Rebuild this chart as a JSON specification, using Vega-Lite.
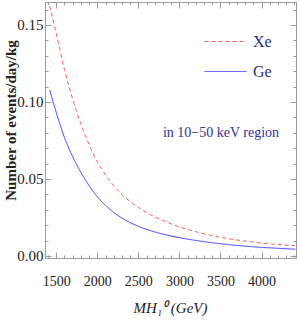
{
  "$schema": "https://vega.github.io/schema/vega-lite/v6.json",
  "width": 251,
  "height": 256,
  "autosize": {"type": "none"},
  "padding": {"left": 45, "top": 2, "right": 4, "bottom": 69},
  "background": "white",
  "config": {
    "view": {"stroke": "#9a9a9a", "strokeWidth": 1},
    "axis": {
      "grid": false,
      "domainColor": "#9a9a9a",
      "tickColor": "#9a9a9a",
      "labelFont": "Liberation Serif",
      "labelColor": "#222222",
      "titleFont": "Liberation Serif",
      "titleColor": "#222222",
      "titleFontWeight": "normal"
    },
    "legend": {
      "orient": "none",
      "legendX": 159,
      "legendY": 18,
      "title": null,
      "symbolType": "stroke",
      "symbolSize": 1764,
      "symbolStrokeWidth": 1,
      "labelFont": "Liberation Serif",
      "labelFontSize": 16,
      "labelColor": "#2e2e80",
      "labelOffset": 6,
      "rowPadding": -10
    }
  },
  "datasets": {
    "curves": [
      {"series": "Xe", "mass": 1420, "rate": 0.1623},
      {"series": "Xe", "mass": 1500, "rate": 0.1445},
      {"series": "Xe", "mass": 1600, "rate": 0.1211},
      {"series": "Xe", "mass": 1700, "rate": 0.1019},
      {"series": "Xe", "mass": 1800, "rate": 0.0858},
      {"series": "Xe", "mass": 1900, "rate": 0.0724},
      {"series": "Xe", "mass": 2000, "rate": 0.0612},
      {"series": "Xe", "mass": 2100, "rate": 0.0526},
      {"series": "Xe", "mass": 2200, "rate": 0.0456},
      {"series": "Xe", "mass": 2300, "rate": 0.0399},
      {"series": "Xe", "mass": 2400, "rate": 0.0354},
      {"series": "Xe", "mass": 2500, "rate": 0.0315},
      {"series": "Xe", "mass": 2600, "rate": 0.0282},
      {"series": "Xe", "mass": 2800, "rate": 0.0230},
      {"series": "Xe", "mass": 3000, "rate": 0.0189},
      {"series": "Xe", "mass": 3200, "rate": 0.0158},
      {"series": "Xe", "mass": 3400, "rate": 0.0132},
      {"series": "Xe", "mass": 3600, "rate": 0.0112},
      {"series": "Xe", "mass": 3800, "rate": 0.0097},
      {"series": "Xe", "mass": 4000, "rate": 0.0084},
      {"series": "Xe", "mass": 4200, "rate": 0.0075},
      {"series": "Xe", "mass": 4410, "rate": 0.0067},
      {"series": "Ge", "mass": 1420, "rate": 0.1078},
      {"series": "Ge", "mass": 1500, "rate": 0.0932},
      {"series": "Ge", "mass": 1600, "rate": 0.0769},
      {"series": "Ge", "mass": 1700, "rate": 0.0645},
      {"series": "Ge", "mass": 1800, "rate": 0.0543},
      {"series": "Ge", "mass": 1900, "rate": 0.0457},
      {"series": "Ge", "mass": 2000, "rate": 0.0385},
      {"series": "Ge", "mass": 2100, "rate": 0.0329},
      {"series": "Ge", "mass": 2200, "rate": 0.0283},
      {"series": "Ge", "mass": 2300, "rate": 0.0246},
      {"series": "Ge", "mass": 2400, "rate": 0.0217},
      {"series": "Ge", "mass": 2500, "rate": 0.0193},
      {"series": "Ge", "mass": 2600, "rate": 0.0173},
      {"series": "Ge", "mass": 2800, "rate": 0.0142},
      {"series": "Ge", "mass": 3000, "rate": 0.0119},
      {"series": "Ge", "mass": 3200, "rate": 0.0101},
      {"series": "Ge", "mass": 3400, "rate": 0.0086},
      {"series": "Ge", "mass": 3600, "rate": 0.0074},
      {"series": "Ge", "mass": 3800, "rate": 0.0064},
      {"series": "Ge", "mass": 4000, "rate": 0.0056},
      {"series": "Ge", "mass": 4200, "rate": 0.0050},
      {"series": "Ge", "mass": 4410, "rate": 0.0044}
    ],
    "notes": [
      {"note": "in 10−50 keV region"}
    ]
  },
  "layer": [
    {
      "data": {"name": "curves"},
      "mark": {"type": "line", "strokeWidth": 1, "interpolate": "monotone"},
      "encoding": {
        "x": {
          "field": "mass",
          "type": "quantitative",
          "scale": {"domain": [1363, 4420], "nice": false, "zero": false},
          "axis": {
            "orient": "bottom",
            "title": "MH₁⁰ (GeV)",
            "titleFontSize": 15,
            "titleFontStyle": "italic",
            "titleX": 125,
            "titleY": 49,
            "titleAlign": "center",
            "titleBaseline": "middle",
            "values": [1400,1500,1600,1700,1800,1900,2000,2100,2200,2300,2400,2500,2600,2700,2800,2900,3000,3100,3200,3300,3400,3500,3600,3700,3800,3900,4000,4100,4200,4300,4400],
            "format": "d",
            "labelExpr": "datum.value % 500 === 0 ? datum.label : ''",
            "labelFontSize": 14,
            "labelPadding": 22,
            "tickSize": -6,
            "tickDash": {"condition": {"test": "datum.value % 500 === 0", "value": [6, 1]}, "value": [3, 10]}
          }
        },
        "y": {
          "field": "rate",
          "type": "quantitative",
          "scale": {"domain": [-0.0013, 0.1649], "nice": false, "zero": false},
          "axis": {
            "orient": "left",
            "title": "Number of events/day/kg",
            "titleFontSize": 15,
            "titleFontWeight": "bold",
            "titleX": -35,
            "titleY": 118,
            "titleAlign": "center",
            "titleBaseline": "middle",
            "values": [0,0.01,0.02,0.03,0.04,0.05,0.06,0.07,0.08,0.09,0.1,0.11,0.12,0.13,0.14,0.15,0.16],
            "format": ".2f",
            "labelExpr": "round(datum.value * 100) % 5 === 0 ? datum.label : ''",
            "labelFontSize": 15,
            "labelPadding": 8,
            "tickSize": -6,
            "tickDash": {"condition": {"test": "round(datum.value * 100) % 5 === 0", "value": [6, 1]}, "value": [3, 10]}
          }
        },
        "color": {
          "field": "series",
          "type": "nominal",
          "scale": {"domain": ["Xe", "Ge"], "range": ["#ff5a5a", "#3a3aff"]}
        },
        "strokeDash": {
          "field": "series",
          "type": "nominal",
          "scale": {"domain": ["Xe", "Ge"], "range": [[4, 3], [1, 0]]}
        }
      }
    },
    {
      "data": {"name": "notes"},
      "mark": {"type": "text", "font": "Liberation Serif", "fontSize": 14, "color": "#33339a", "align": "center", "baseline": "middle"},
      "encoding": {
        "x": {
          "datum": 3507,
          "type": "quantitative",
          "axis": {
            "orient": "top",
            "title": null,
            "labels": false,
            "values": [1400,1500,1600,1700,1800,1900,2000,2100,2200,2300,2400,2500,2600,2700,2800,2900,3000,3100,3200,3300,3400,3500,3600,3700,3800,3900,4000,4100,4200,4300,4400],
            "tickSize": -6,
            "tickDash": {"condition": {"test": "datum.value % 500 === 0", "value": [6, 1]}, "value": [3, 10]}
          }
        },
        "y": {
          "datum": 0.0799,
          "type": "quantitative",
          "axis": {
            "orient": "right",
            "title": null,
            "labels": false,
            "values": [0,0.01,0.02,0.03,0.04,0.05,0.06,0.07,0.08,0.09,0.1,0.11,0.12,0.13,0.14,0.15,0.16],
            "tickSize": -6,
            "tickDash": {"condition": {"test": "round(datum.value * 100) % 5 === 0", "value": [6, 1]}, "value": [3, 10]}
          }
        },
        "text": {"field": "note", "type": "nominal"}
      }
    }
  ]
}
